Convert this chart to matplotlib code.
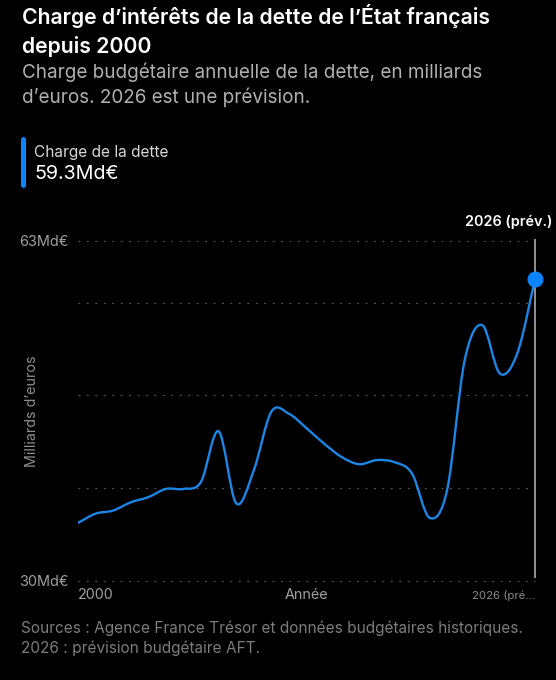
import matplotlib
matplotlib.use('Agg')
import matplotlib.pyplot as plt
from matplotlib.path import Path
from matplotlib.patches import PathPatch

plt.rcParams['font.family'] = ['Inter', 'DejaVu Sans']

years = list(range(2000, 2027))
charge = [35.6, 36.5, 36.8, 37.6, 38.1, 38.9, 38.9, 39.6, 44.5, 37.5, 40.7, 46.4, 46.2, 44.8,
          43.3, 42.0, 41.3, 41.7, 41.5, 40.4, 36.1, 38.8, 51.4, 54.8, 50.1, 52.1, 59.3]
grid_values = [30, 39, 48, 57, 63]
y_labels = ['30Md€', '', '', '', '63Md€']
x_ticks = [2000, 2026]
x_labels = ['2000', '2026 (pré…']

W, H = 556, 680
BLUE = '#0a84ff'
LINE = '#1b86e6'


def smooth_path(x, y):
    # catmull-rom through the yearly values, as bezier segments
    verts = [(x[0], y[0])]
    codes = [Path.MOVETO]
    n = len(x)
    for i in range(n - 1):
        x0, y0 = x[max(i - 1, 0)], y[max(i - 1, 0)]
        x3, y3 = x[min(i + 2, n - 1)], y[min(i + 2, n - 1)]
        verts.append((x[i] + (x[i + 1] - x0) / 6, y[i] + (y[i + 1] - y0) / 6))
        verts.append((x[i + 1] - (x3 - x[i]) / 6, y[i + 1] - (y3 - y[i]) / 6))
        verts.append((x[i + 1], y[i + 1]))
        codes += [Path.CURVE4] * 3
    return Path(verts, codes)


def text_px(x, y, s, size, color, weight='normal', ha='left'):
    # y is the baseline in pixels from the top
    fig.text(x / W, 1 - y / H, s, fontsize=size, color=color, fontweight=weight, ha=ha, va='baseline')


fig = plt.figure(figsize=(W / 100, H / 100), dpi=100, facecolor='black')
ax = fig.add_axes([78 / W, 1 - 580.6 / H, (535 - 78) / W, (580.6 - 240.7) / H], facecolor='black')

ax.set_xlim(2000, 2026)
ax.set_ylim(30, 63)
for side in ax.spines.values():
    side.set_visible(False)

ax.set_yticks(grid_values, y_labels, color='#a0a0a0', fontsize=10.4)
ax.set_xticks(x_ticks, x_labels)
ax.tick_params(length=0)
ax.tick_params(axis='y', pad=6.5)
ax.tick_params(axis='x', pad=13.2)
ax.grid(axis='y', color='#5a5a5a', linewidth=0.8, dashes=(1.6, 6), clip_on=False)

tick_a, tick_b = ax.get_xticklabels()
tick_a.set(ha='left', va='baseline', color='#a0a0a0', fontsize=10.3)
tick_b.set(ha='right', va='baseline', color='#8a8a8a', fontsize=8.2)

ax.vlines(2026, 30.25, 63.2, color='#9c9c9c', linewidth=1.3, clip_on=False, zorder=2)
ax.add_patch(PathPatch(smooth_path(years, charge), fill=False, edgecolor=LINE, linewidth=1.7,
                       capstyle='round', zorder=3))
ax.plot(years[-1], charge[-1], 'o', color=BLUE, markersize=10.5, clip_on=False, zorder=4)

text_px(306, 599.3, 'Année', 10.3, '#a0a0a0', ha='center')
fig.text(32 / W, 1 - 411 / H, 'Milliards d’euros', fontsize=10.3, color='#8f8f8f', rotation=90, ha='center', va='center')

text_px(21.5, 24, 'Charge d’intérêts de la dette de l’État français', 15.3, 'white', weight='semibold')
text_px(21.5, 52.7, 'depuis 2000', 15.3, 'white', weight='semibold')
text_px(21.5, 77.5, 'Charge budgétaire annuelle de la dette, en milliards', 13.6, '#b0b0b0')
text_px(21.5, 103, 'd’euros. 2026 est une prévision.', 13.6, '#b0b0b0')

fig.add_artist(plt.Line2D([23 / W, 23 / W], [1 - 139 / H, 1 - 185 / H], color=BLUE, linewidth=3.6,
                          solid_capstyle='round'))
text_px(34, 156.7, 'Charge de la dette', 11.1, '#d8d8d8')
text_px(34.5, 179, '59.3Md€', 14.2, 'white')
text_px(552, 226, '2026 (prév.)', 10.4, 'white', weight='semibold', ha='right')

text_px(21, 632.7, 'Sources : Agence France Trésor et données budgétaires historiques.', 11.1, '#7c7c7c')
text_px(21, 653.3, '2026 : prévision budgétaire AFT.', 11.1, '#7c7c7c')

fig.savefig('out.png', dpi=100, facecolor='black')
